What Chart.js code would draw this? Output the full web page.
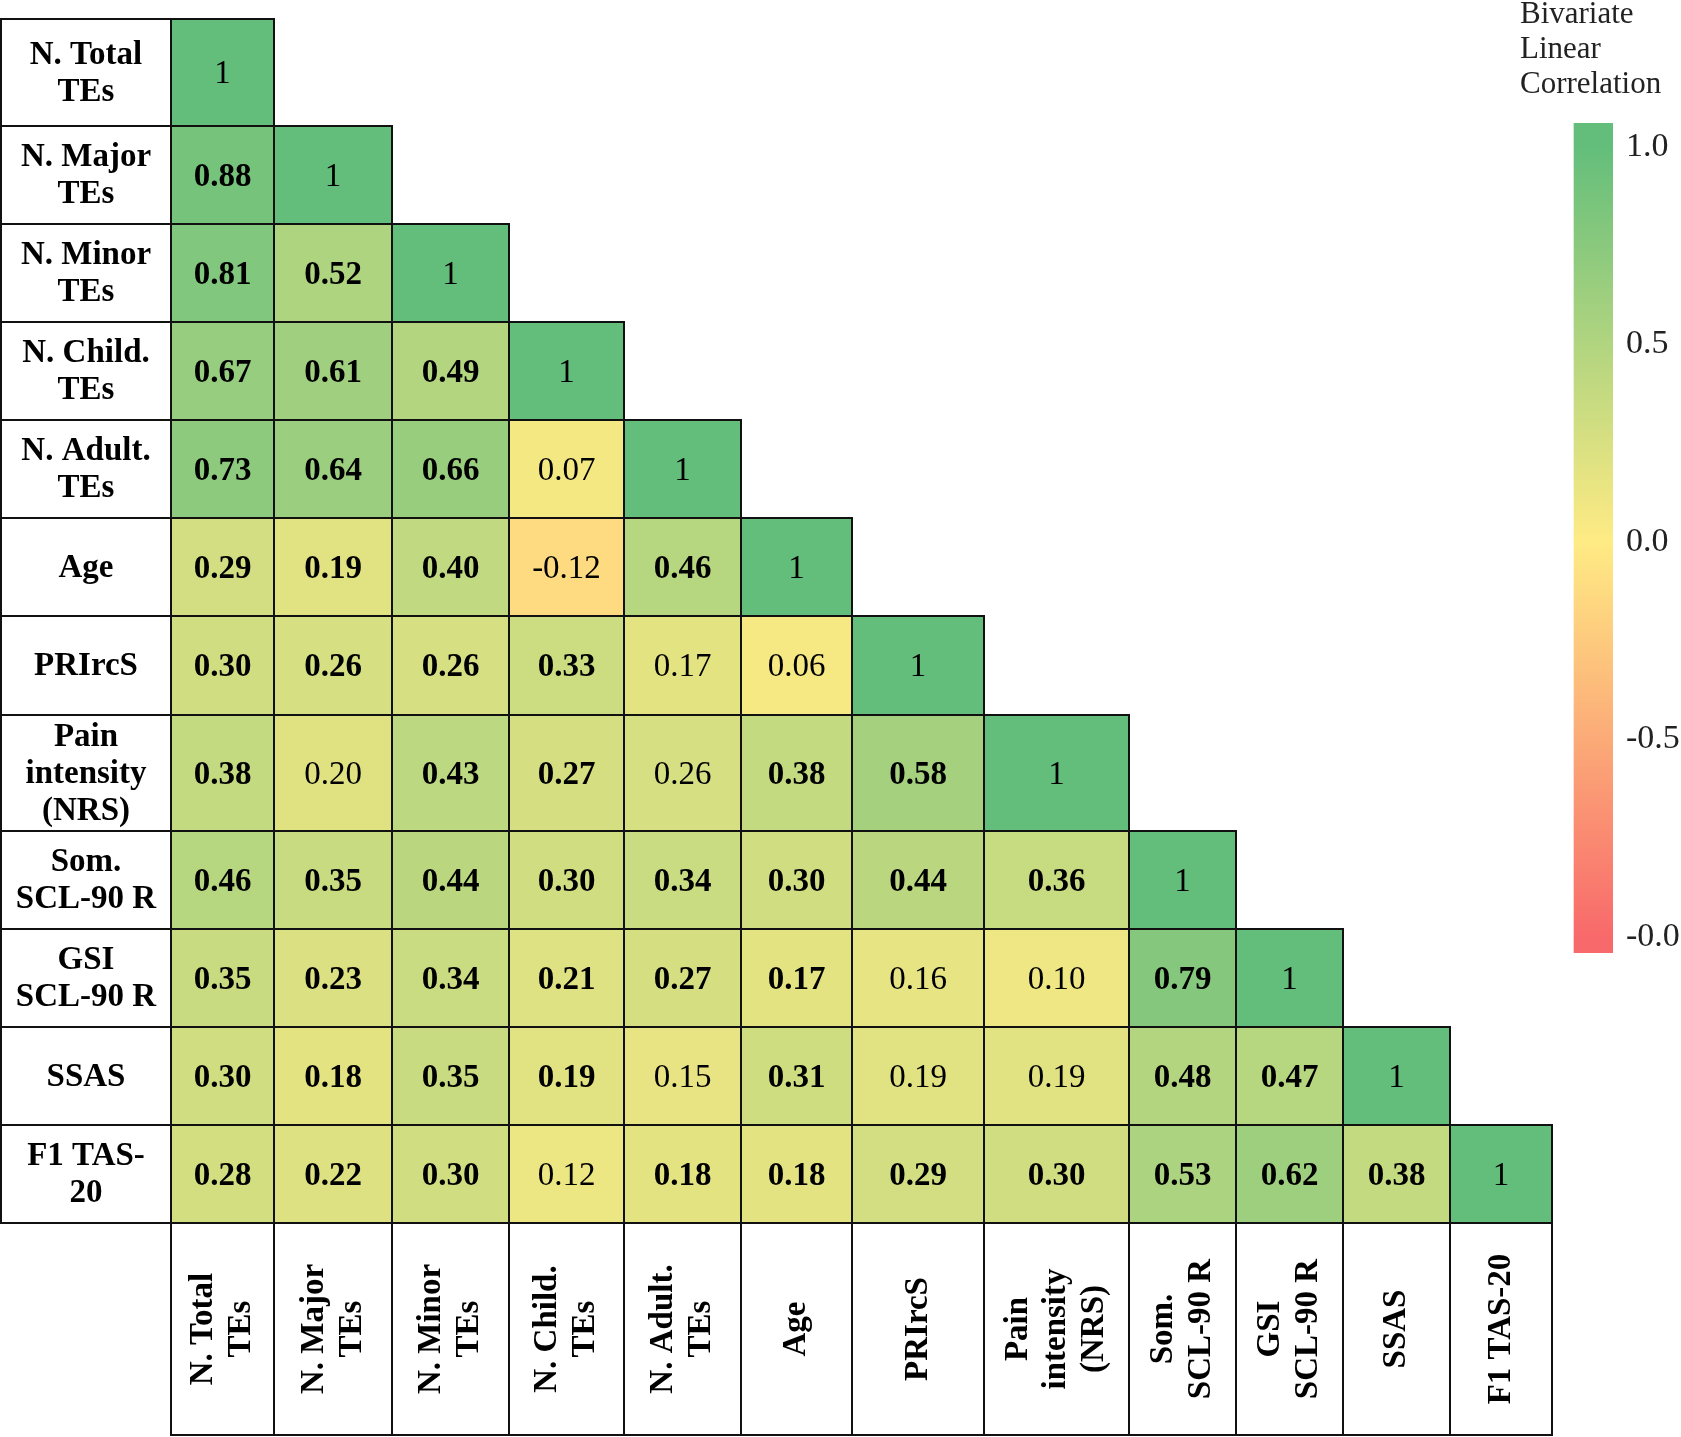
<!DOCTYPE html>
<html>
<head>
<meta charset="utf-8">
<title>Bivariate Linear Correlation</title>
<script src="https://cdn.jsdelivr.net/npm/chart.js@4.4.1/dist/chart.umd.min.js"></script>
<style>
  html, body { margin: 0; padding: 0; background: #fff; }
  #wrap { position: relative; width: 1681px; height: 1437px; overflow: hidden; }
  #heatmap { position: absolute; left: 0; top: 0; }
  #colorbar { position: absolute; left: 1520px; top: -3px; }
</style>
</head>
<body>
<div id="wrap">
  <canvas id="heatmap" width="1681" height="1437"></canvas>
  <canvas id="colorbar" width="161" height="980"></canvas>
</div>
<script>
// variables, in matrix order
const variables = ['N. Total TEs', 'N. Major TEs', 'N. Minor TEs', 'N. Child. TEs', 'N. Adult. TEs',
    'Age', 'PRIrcS', 'Pain intensity (NRS)', 'Som. SCL-90 R', 'GSI SCL-90 R', 'SSAS', 'F1 TAS-20'];

// how the names wrap in the row headers and in the column headers
const rowLabels = [['N. Total', 'TEs'], ['N. Major', 'TEs'], ['N. Minor', 'TEs'], ['N. Child.', 'TEs'],
    ['N. Adult.', 'TEs'], ['Age'], ['PRIrcS'], ['Pain', 'intensity', '(NRS)'], ['Som.', 'SCL-90 R'],
    ['GSI', 'SCL-90 R'], ['SSAS'], ['F1 TAS-', '20']];
const colLabels = [['N. Total', 'TEs'], ['N. Major', 'TEs'], ['N. Minor', 'TEs'], ['N. Child.', 'TEs'],
    ['N. Adult.', 'TEs'], ['Age'], ['PRIrcS'], ['Pain', 'intensity', '(NRS)'], ['Som.', 'SCL-90 R'],
    ['GSI', 'SCL-90 R'], ['SSAS'], ['F1 TAS-20']];

// lower triangle of the correlation matrix
const corr = [
    [1],
    [0.88, 1],
    [0.81, 0.52, 1],
    [0.67, 0.61, 0.49, 1],
    [0.73, 0.64, 0.66, 0.07, 1],
    [0.29, 0.19, 0.40, -0.12, 0.46, 1],
    [0.30, 0.26, 0.26, 0.33, 0.17, 0.06, 1],
    [0.38, 0.20, 0.43, 0.27, 0.26, 0.38, 0.58, 1],
    [0.46, 0.35, 0.44, 0.30, 0.34, 0.30, 0.44, 0.36, 1],
    [0.35, 0.23, 0.34, 0.21, 0.27, 0.17, 0.16, 0.10, 0.79, 1],
    [0.30, 0.18, 0.35, 0.19, 0.15, 0.31, 0.19, 0.19, 0.48, 0.47, 1],
    [0.28, 0.22, 0.30, 0.12, 0.18, 0.18, 0.29, 0.30, 0.53, 0.62, 0.38, 1]
];

// 1 = significant (printed in bold)
const significant = [
    [0],
    [1, 0],
    [1, 1, 0],
    [1, 1, 1, 0],
    [1, 1, 1, 0, 0],
    [1, 1, 1, 0, 1, 0],
    [1, 1, 1, 1, 0, 0, 0],
    [1, 0, 1, 1, 0, 1, 1, 0],
    [1, 1, 1, 1, 1, 1, 1, 1, 0],
    [1, 1, 1, 1, 1, 1, 0, 0, 1, 0],
    [1, 1, 1, 1, 0, 1, 0, 0, 1, 1, 0],
    [1, 1, 1, 0, 1, 1, 1, 1, 1, 1, 1, 0]
];

// colour bar
const legendTitle = ['Bivariate', 'Linear', 'Correlation'];
const cbarTicks = [-1, -0.5, 0, 0.5, 1];
const cbarTickLabels = ['-0.0', '-0.5', '0.0', '0.5', '1.0'];

// ---- layout ----
const colWidths = [170, 103, 118, 117, 115, 117, 111, 132, 145, 107, 107, 107, 102]; // first = row header column
const rowHeights = [107, 98, 98, 98, 98, 98, 99, 116, 98, 98, 98, 98, 212];          // last = column header row
const colEdges = [0];
colWidths.forEach(w => colEdges.push(colEdges[colEdges.length - 1] + w));
const rowEdges = [0];
rowHeights.forEach(h => rowEdges.push(rowEdges[rowEdges.length - 1] + h));
const gridW = colEdges[colEdges.length - 1];
const gridH = rowEdges[rowEdges.length - 1];

const SERIF = '"Liberation Serif", "Times New Roman", serif';
const GREEN = [99, 190, 123], YELLOW = [255, 235, 132], RED = [248, 105, 107];

const mix = (a, b, t) => a.map((c, i) => Math.round(c + (b[i] - c) * t));
const cellColor = v => {
    const c = v >= 0 ? mix(YELLOW, GREEN, v) : mix(YELLOW, RED, -v);
    return `rgb(${c[0]}, ${c[1]}, ${c[2]})`;
};

// one point per cell, at the cell centre
const cells = [];
corr.forEach((row, i) => {
    row.forEach((v, j) => {
        cells.push({
            x: (colEdges[j + 1] + colEdges[j + 2]) / 2,
            y: (rowEdges[i] + rowEdges[i + 1]) / 2,
            x0: colEdges[j + 1], x1: colEdges[j + 2],
            y0: rowEdges[i], y1: rowEdges[i + 1],
            v: v,
            sig: significant[i][j],
            diag: i === j
        });
    });
});

const drawLines = (ctx, lines, cx, cy, lineH, rotated) => {
    ctx.save();
    ctx.translate(cx, cy);
    if (rotated) ctx.rotate(-Math.PI / 2);
    lines.forEach((t, k) => {
        ctx.fillText(t, 0, (k - (lines.length - 1) / 2) * lineH);
    });
    ctx.restore();
};

const gridPlugin = {
    id: 'corrGrid',
    afterDatasetsDraw(chart) {
        const { ctx, scales: { x, y } } = chart;
        const px = v => x.getPixelForValue(v);
        const py = v => y.getPixelForValue(v);
        const pts = chart.data.datasets[0].data;
        const headRow = rowEdges.length - 2;

        ctx.save();
        // fills
        pts.forEach(d => {
            ctx.fillStyle = cellColor(d.v);
            ctx.fillRect(px(d.x0), py(d.y0), px(d.x1) - px(d.x0), py(d.y1) - py(d.y0));
        });

        // borders
        ctx.lineWidth = 2;
        ctx.strokeStyle = '#111';
        const box = (a, b, c, d) => ctx.strokeRect(px(a), py(b), px(c) - px(a), py(d) - py(b));
        pts.forEach(d => box(d.x0, d.y0, d.x1, d.y1));
        rowLabels.forEach((l, i) => box(colEdges[0], rowEdges[i], colEdges[1], rowEdges[i + 1]));
        colLabels.forEach((l, j) => box(colEdges[j + 1], rowEdges[headRow], colEdges[j + 2], rowEdges[headRow + 1]));

        // texts
        ctx.fillStyle = '#000';
        ctx.textAlign = 'center';
        ctx.textBaseline = 'middle';
        pts.forEach(d => {
            ctx.font = (d.sig ? 'bold ' : '') + '33px ' + SERIF;
            const label = d.diag ? '1' : d.v.toFixed(2);
            ctx.fillText(label, (px(d.x0) + px(d.x1)) / 2, (py(d.y0) + py(d.y1)) / 2 + 2);
        });
        ctx.font = 'bold 33px ' + SERIF;
        rowLabels.forEach((lines, i) => {
            drawLines(ctx, lines, (px(colEdges[0]) + px(colEdges[1])) / 2,
                (py(rowEdges[i]) + py(rowEdges[i + 1])) / 2 + 1, 37, false);
        });
        colLabels.forEach((lines, j) => {
            drawLines(ctx, lines, (px(colEdges[j + 1]) + px(colEdges[j + 2])) / 2,
                (py(rowEdges[headRow]) + py(rowEdges[headRow + 1])) / 2, 38, true);
        });
        ctx.restore();
    }
};

new Chart(document.getElementById('heatmap'), {
    type: 'scatter',
    data: {
        datasets: [{
            data: cells,
            pointRadius: 0,
            pointHoverRadius: 0
        }]
    },
    options: {
        responsive: false,
        animation: false,
        events: [],
        layout: { padding: { left: 1, top: 19, right: 1681 - 1 - gridW, bottom: 1437 - 19 - gridH } },
        scales: {
            x: { type: 'linear', min: 0, max: gridW, display: false },
            y: { type: 'linear', min: 0, max: gridH, reverse: true, display: false }
        },
        plugins: {
            legend: { display: false },
            tooltip: { enabled: false }
        }
    },
    plugins: [gridPlugin]
});

// colour bar: one floating bar filled with the colour scale
const cbarMin = -1.04, cbarMax = 1.06;

new Chart(document.getElementById('colorbar'), {
    type: 'bar',
    data: {
        datasets: [{
            data: [{ x: 73.5, y: [cbarMin, cbarMax] }],
            barThickness: 39,
            borderWidth: 0,
            backgroundColor: (context) => {
                const { chart } = context;
                if (!chart.chartArea) return 'rgb(255, 235, 132)';
                const ys = chart.scales.y;
                const g = chart.ctx.createLinearGradient(0, ys.getPixelForValue(1), 0, ys.getPixelForValue(-1));
                g.addColorStop(0, cellColor(1));
                g.addColorStop(0.5, cellColor(0));
                g.addColorStop(1, cellColor(-1));
                return g;
            }
        }]
    },
    options: {
        responsive: false,
        animation: false,
        events: [],
        layout: { padding: { left: 0, right: 0, top: 0, bottom: 24 } },
        scales: {
            x: { type: 'linear', min: 0, max: 93, offset: false, display: false },
            y: {
                min: cbarMin,
                max: cbarMax,
                position: 'right',
                grid: { display: false, drawTicks: false },
                border: { display: false },
                afterBuildTicks: (scale) => { scale.ticks = cbarTicks.map(v => ({ value: v })); },
                afterFit: (scale) => {
                    scale.width = 68;
                    scale.paddingTop = 0;
                    scale.paddingBottom = 0;
                },
                ticks: {
                    padding: 13,
                    color: '#222',
                    font: { family: SERIF, size: 34 },
                    callback: (value) => cbarTickLabels[cbarTicks.indexOf(value)]
                }
            }
        },
        plugins: {
            legend: { display: false },
            tooltip: { enabled: false },
            title: {
                display: true,
                text: legendTitle,
                align: 'start',
                color: '#222',
                font: { family: SERIF, size: 31, weight: 'normal', lineHeight: 35 / 31 },
                padding: { top: 0, bottom: 21 }
            }
        }
    }
});
</script>
</body>
</html>
